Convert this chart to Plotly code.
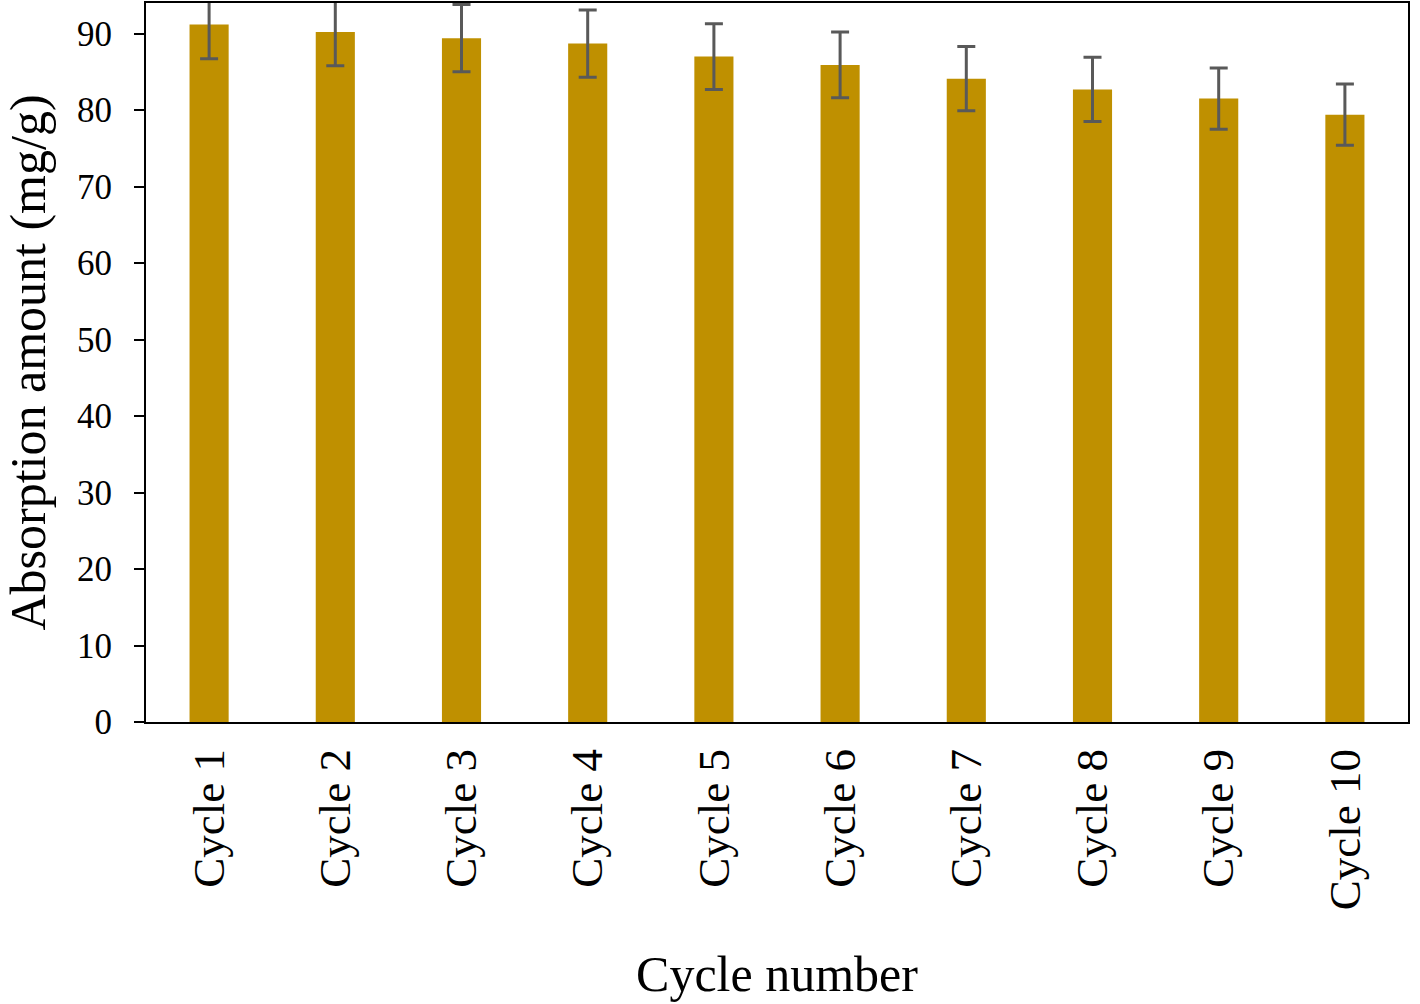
import plotly.graph_objects as go

categories = ["Cycle 1", "Cycle 2", "Cycle 3", "Cycle 4", "Cycle 5",
              "Cycle 6", "Cycle 7", "Cycle 8", "Cycle 9", "Cycle 10"]
absorption = [91.2, 90.2, 89.4, 88.7, 87.0, 85.9, 84.1, 82.7, 81.5, 79.4]
errors = [4.5, 4.4, 4.4, 4.4, 4.3, 4.3, 4.2, 4.2, 4.0, 4.0]
y_ticks = [0, 10, 20, 30, 40, 50, 60, 70, 80, 90]

font_family = "Liberation Serif"

fig = go.Figure(
    go.Bar(
        x=categories,
        y=absorption,
        width=0.31,
        marker=dict(color="#BF9000", line=dict(width=0)),
        error_y=dict(type="data", array=errors, visible=True,
                     color="#595959", thickness=3, width=9),
    )
)

fig.update_layout(
    width=1420, height=1004,
    margin=dict(l=146, r=12, t=3, b=282),
    paper_bgcolor="white", plot_bgcolor="white",
    showlegend=False,
    font=dict(family=font_family, color="black"),
)

fig.update_xaxes(
    automargin=False,
    tickangle=-90,
    tickfont=dict(size=45, family=font_family, color="black"),
    ticks="", ticklabelstandoff=7,
    showline=True, linecolor="black", linewidth=2, mirror=True,
    showgrid=False,
    title=dict(text="Cycle number", font=dict(size=50, family=font_family, color="black"), standoff=47),
)

fig.update_yaxes(
    automargin=False,
    range=[0, 94],
    tickvals=y_ticks,
    tickfont=dict(size=35, family=font_family, color="black"),
    ticks="outside", ticklen=10, tickwidth=2, tickcolor="black",
    ticklabelstandoff=15,
    showline=True, linecolor="black", linewidth=2, mirror=True,
    showgrid=False, zeroline=False,
    title=dict(text="Absorption amount (mg/g)", font=dict(size=50, family=font_family, color="black"), standoff=39),
)

fig.write_html("out.html", config={"displayModeBar": False},
               post_script="document.body.style.margin='0';")
